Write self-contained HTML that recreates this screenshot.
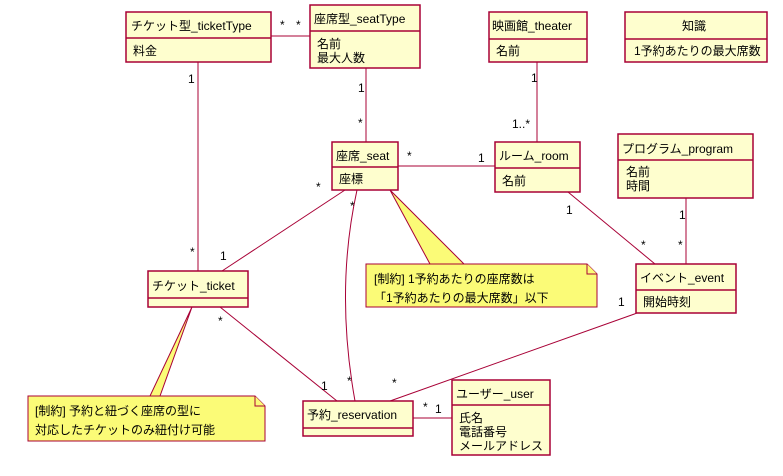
<!DOCTYPE html>
<html><head><meta charset="utf-8"><style>
html,body{margin:0;padding:0;background:#fff;}
svg text{font-family:"Liberation Sans","Noto Sans CJK JP",sans-serif;font-size:12px;fill:#000;}
</style></head><body>
<svg width="783" height="471" viewBox="0 0 783 471" xmlns="http://www.w3.org/2000/svg">
<g fill="none" stroke="#A80036" stroke-width="1">
<line x1="271" y1="36" x2="310" y2="36"/>
<line x1="198" y1="62" x2="198" y2="271"/>
<line x1="366" y1="68" x2="366" y2="142"/>
<line x1="537" y1="62" x2="537" y2="142"/>
<line x1="398" y1="166" x2="495" y2="166"/>
<line x1="345" y1="190" x2="222" y2="271"/>
<path d="M357 190 Q335 290 355 401"/>
<line x1="568" y1="192" x2="655" y2="264"/>
<line x1="686" y1="198" x2="686" y2="264"/>
<line x1="640" y1="312" x2="390" y2="401"/>
<line x1="220" y1="307" x2="337" y2="401"/>
<line x1="413" y1="418" x2="452" y2="418"/>
</g>
<!-- note connectors -->
<polygon points="390,190 430,264 464,264" fill="#FBFB77" stroke="#A80036" stroke-width="1"/>
<polygon points="192,307 150,396 160,396" fill="#FBFB77" stroke="#A80036" stroke-width="1"/>
<g fill="#FEFECE" stroke="#A80036" stroke-width="1.5">
<rect x="126" y="12" width="145" height="50"/><line x1="126" y1="38" x2="271" y2="38"/>
<rect x="310" y="5" width="110" height="63"/><line x1="310" y1="31" x2="420" y2="31"/>
<rect x="489" y="12" width="98" height="50"/><line x1="489" y1="39" x2="587" y2="39"/>
<rect x="625" y="12" width="142" height="50"/><line x1="625" y1="39" x2="767" y2="39"/>
<rect x="332" y="142" width="66" height="48"/><line x1="332" y1="167" x2="398" y2="167"/>
<rect x="495" y="142" width="85" height="50"/><line x1="495" y1="168" x2="580" y2="168"/>
<rect x="618" y="134" width="135" height="64"/><line x1="618" y1="160" x2="753" y2="160"/>
<rect x="636" y="264" width="100" height="49"/><line x1="636" y1="290" x2="736" y2="290"/>
<rect x="148" y="271" width="100" height="36"/><line x1="148" y1="298" x2="248" y2="298"/>
<rect x="303" y="401" width="110" height="35"/><line x1="303" y1="428" x2="413" y2="428"/>
<rect x="452" y="380" width="98" height="75"/><line x1="452" y1="405" x2="550" y2="405"/>
</g>
<g fill="#FBFB77" stroke="#A80036" stroke-width="1">
<path d="M366 264 H587 L597 274 V307 H366 Z"/><path d="M587 264 V274 H597"/>
<path d="M28 396 H255 L265 406 V441 H28 Z"/><path d="M255 396 V406 H265"/>
</g>
<text x="131" y="30" font-size="13">チケット型_ticketType</text>
<text x="133" y="55">料金</text>
<text x="314" y="23" font-size="13">座席型_seatType</text>
<text x="317" y="48">名前</text><text x="317" y="62">最大人数</text>
<text x="492" y="30" font-size="13">映画館_theater</text>
<text x="496" y="55">名前</text>
<text x="682" y="30" font-size="13">知識</text>
<text x="634" y="55">1予約あたりの最大席数</text>
<text x="336" y="160" font-size="13">座席_seat</text>
<text x="339" y="183">座標</text>
<text x="499" y="160" font-size="13">ルーム_room</text>
<text x="502" y="185">名前</text>
<text x="622" y="153" font-size="13">プログラム_program</text>
<text x="626" y="176">名前</text><text x="626" y="190">時間</text>
<text x="640" y="282" font-size="13">イベント_event</text>
<text x="643" y="306">開始時刻</text>
<text x="152" y="290" font-size="13">チケット_ticket</text>
<text x="307" y="419" font-size="13">予約_reservation</text>
<text x="456" y="398" font-size="13">ユーザー_user</text>
<text x="459" y="422">氏名</text><text x="459" y="436">電話番号</text><text x="459" y="450">メールアドレス</text>
<text x="374" y="283" font-size="13">[制約] 1予約あたりの座席数は</text>
<text x="374" y="302" font-size="13">「1予約あたりの最大席数」以下</text>
<text x="35" y="415" font-size="13">[制約] 予約と紐づく座席の型に</text>
<text x="35" y="434" font-size="13">対応したチケットのみ紐付け可能</text>
<g font-size="13">
<text x="280" y="29">*</text><text x="296" y="29">*</text>
<text x="188" y="83">1</text>
<text x="358" y="92">1</text><text x="358" y="127">*</text>
<text x="531" y="82">1</text><text x="512" y="128">1..*</text>
<text x="407" y="160">*</text><text x="478" y="162">1</text>
<text x="316" y="191">*</text><text x="350" y="210">*</text>
<text x="190" y="256">*</text><text x="220" y="260">1</text>
<text x="566" y="214">1</text>
<text x="641" y="249">*</text><text x="678" y="249">*</text>
<text x="679" y="219">1</text>
<text x="618" y="306">1</text>
<text x="218" y="325">*</text><text x="321" y="390">1</text>
<text x="347" y="385">*</text><text x="392" y="387">*</text>
<text x="423" y="411">*</text><text x="435" y="413">1</text>
</g>
</svg>
</body></html>
